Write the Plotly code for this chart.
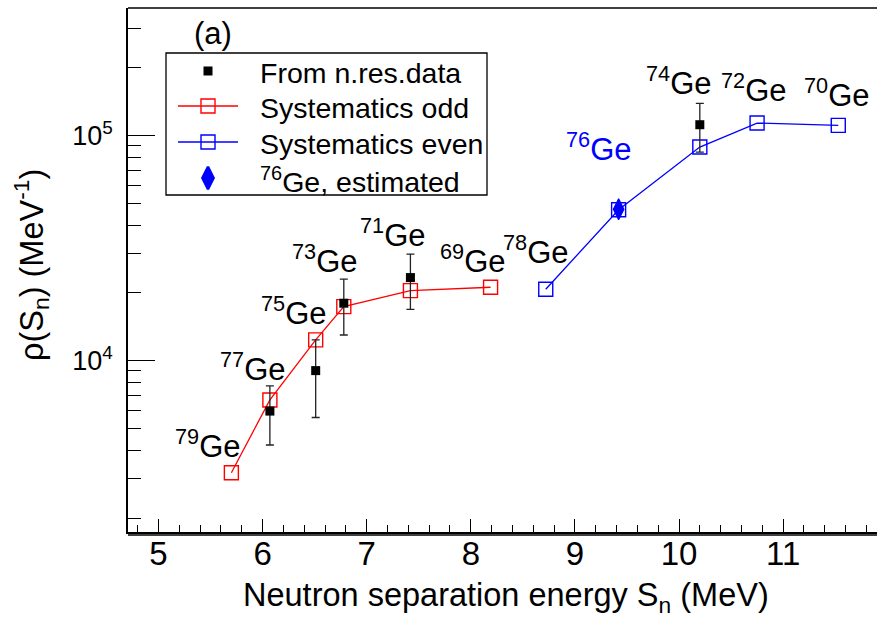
import math
import plotly.graph_objects as go

# ---- data: level density at the neutron separation energy, Ge isotopes ----
# systematics, odd-A isotopes
odd_sn = [5.70, 6.07, 6.51, 6.78, 7.42, 8.19]
odd_rho = [3180, 6690, 12360, 17380, 20470, 21180]
odd_mass = ["79", "77", "75", "73", "71", "69"]

# systematics, even-A isotopes
even_sn = [8.72, 9.42, 10.20, 10.75, 11.53]
even_rho = [20750, 46770, 88800, 113500, 110800]
even_mass = ["78", "76", "74", "72", "70"]

# values from neutron resonance data, with upper / lower error limits
res_sn = [6.07, 6.51, 6.78, 7.42, 10.20]
res_rho = [5970, 9030, 17990, 23380, 111600]
res_upper = [7730, 12370, 23010, 29720, 138700]
res_lower = [4220, 5590, 13000, 16900, 84400]

# 76Ge estimate
est_sn = [9.42]
est_rho = [47000]

x_ticks = [5, 6, 7, 8, 9, 10, 11]
y_ticks = [1e4, 1e5]
y_ticktext = ["10<sup>4</sup>", "10<sup>5</sup>"]

# ---- layout helpers (pixel -> paper) ----
W, H = 877, 620
L, R, T, B = 128, 0, 8, 88


def px(x):
    return (x - L) / (W - L - R)


def py(y):
    return (H - B - y) / (H - T - B)


FONT = "Liberation Sans, Arial, Helvetica, sans-serif"
RED = "#ff0000"
BLUE = "#0000ff"

fig = go.Figure()

fig.add_trace(go.Scatter(
    x=odd_sn, y=odd_rho, mode="lines+markers",
    line=dict(color=RED, width=1.3),
    marker=dict(symbol="square-open", size=14, color=RED, line=dict(width=1.4, color=RED)),
    showlegend=False, cliponaxis=False))

fig.add_trace(go.Scatter(
    x=even_sn, y=even_rho, mode="lines+markers",
    line=dict(color=BLUE, width=1.3),
    marker=dict(symbol="square-open", size=14, color=BLUE, line=dict(width=1.4, color=BLUE)),
    showlegend=False, cliponaxis=False))

fig.add_trace(go.Scatter(
    x=est_sn, y=est_rho, mode="markers",
    marker=dict(symbol="diamond-tall", size=15, color=BLUE, line=dict(width=1.2, color=BLUE)),
    showlegend=False))

fig.add_trace(go.Scatter(
    x=res_sn, y=res_rho, mode="markers",
    marker=dict(symbol="square", size=9, color="black", line=dict(width=0)),
    error_y=dict(type="data", symmetric=False,
                 array=[u - v for u, v in zip(res_upper, res_rho)],
                 arrayminus=[v - d for v, d in zip(res_rho, res_lower)],
                 color="#222222", thickness=1.3, width=4),
    showlegend=False))

# ---- isotope labels, offset (px) from their points ----
odd_offsets = [(-24, 7), (-17, 11), (-22, 7), (-19, 26), (-18, 36), (-18, 6)]
even_offsets = [(-10, 17), (-20, 41), (-21, 44), (-4, 13), (-2, 10)]
LABEL_SIZE = 31

annotations = []
for sn, rho, a, (dx, dy) in zip(odd_sn, odd_rho, odd_mass, odd_offsets):
    annotations.append(dict(x=sn, y=math.log10(rho), xref="x", yref="y",
                            text=f"<sup>{a}</sup>Ge", showarrow=False,
                            xanchor="center", yanchor="bottom", xshift=dx, yshift=dy,
                            font=dict(size=LABEL_SIZE, color="black", family=FONT)))
for sn, rho, a, (dx, dy) in zip(even_sn, even_rho, even_mass, even_offsets):
    annotations.append(dict(x=sn, y=math.log10(rho), xref="x", yref="y",
                            text=f"<sup>{a}</sup>Ge", showarrow=False,
                            xanchor="center", yanchor="bottom", xshift=dx, yshift=dy,
                            font=dict(size=LABEL_SIZE, color=BLUE if a == "76" else "black",
                                      family=FONT)))

# panel tag
annotations.append(dict(x=px(213), y=py(33), xref="paper", yref="paper", text="(a)",
                        showarrow=False, xanchor="center", yanchor="middle",
                        font=dict(size=31, color="black", family=FONT)))

# axis titles
annotations.append(dict(x=px(506), y=py(597), xref="paper", yref="paper",
                        text="Neutron separation energy S<sub>n</sub> (MeV)",
                        showarrow=False, xanchor="center", yanchor="middle",
                        font=dict(size=32.5, color="black", family=FONT)))
annotations.append(dict(x=px(31), y=py(265), xref="paper", yref="paper",
                        text="\u03c1(S<sub>n</sub>) (MeV<sup>-1</sup>)", textangle=-90,
                        showarrow=False, xanchor="center", yanchor="middle",
                        font=dict(size=32.5, color="black", family=FONT)))

# ---- legend drawn on an overlay axis in paper units ----
leg_rows = [71, 106, 142, 178]
leg_mx, leg_l0, leg_l1, leg_tx = 208, 178, 238, 258
leg_text = ["From n.res.data", "Systematics odd", "Systematics even",
            "<sup>76</sup>Ge, estimated"]

fig.add_trace(go.Scatter(x=[px(leg_mx)], y=[py(leg_rows[0])], xaxis="x2", yaxis="y2",
                         mode="markers", marker=dict(symbol="square", size=9, color="black"),
                         showlegend=False, hoverinfo="skip"))
for row, col in ((leg_rows[1], RED), (leg_rows[2], BLUE)):
    fig.add_trace(go.Scatter(x=[px(leg_l0), px(leg_l1)], y=[py(row), py(row)],
                             xaxis="x2", yaxis="y2", mode="lines",
                             line=dict(color=col, width=1.3), showlegend=False, hoverinfo="skip"))
    fig.add_trace(go.Scatter(x=[px(leg_mx)], y=[py(row)], xaxis="x2", yaxis="y2",
                             mode="markers",
                             marker=dict(symbol="square-open", size=14, color=col,
                                         line=dict(width=1.4, color=col)),
                             showlegend=False, hoverinfo="skip"))
fig.add_trace(go.Scatter(x=[px(leg_mx)], y=[py(leg_rows[3])], xaxis="x2", yaxis="y2",
                         mode="markers",
                         marker=dict(symbol="diamond-tall", size=16, color=BLUE,
                                     line=dict(width=2.5, color=BLUE)),
                         showlegend=False, hoverinfo="skip"))
for row, txt in zip(leg_rows, leg_text):
    annotations.append(dict(x=px(leg_tx), y=py(row + 2), xref="paper", yref="paper",
                            text=txt, showarrow=False, xanchor="left", yanchor="middle",
                            font=dict(size=28.5, color="black", family=FONT)))

shapes = [
    # legend frame
    dict(type="rect", xref="paper", yref="paper", x0=px(166), x1=px(487),
         y0=py(53), y1=py(195), line=dict(color="black", width=1.3),
         fillcolor="rgba(0,0,0,0)", layer="below"),
    # top frame line
    dict(type="line", xref="paper", yref="paper", x0=0, x1=1, y0=1, y1=1,
         line=dict(color="black", width=1.5)),
    # second bottom line under the x axis
    dict(type="line", xref="paper", yref="paper", ysizemode="pixel", yanchor=0,
         x0=0, x1=1, y0=-3, y1=-3, line=dict(color="black", width=1.5)),
]

fig.update_layout(
    width=W, height=H,
    margin=dict(l=L, r=R, t=T, b=B, pad=0),
    paper_bgcolor="white", plot_bgcolor="white",
    font=dict(family=FONT, color="black"),
    showlegend=False,
    annotations=annotations,
    shapes=shapes,
    xaxis=dict(
        range=[4.707, 4.707 + (W - L - R) / 104.1],
        tickmode="array", tickvals=x_ticks, ticktext=[str(v) for v in x_ticks],
        ticks="inside", ticklen=13, tickwidth=1.2, tickcolor="black",
        minor=dict(dtick=0.2, tick0=5, ticks="inside", ticklen=7, tickwidth=1.2,
                   tickcolor="black"),
        showline=True, linecolor="black", linewidth=1.5,
        showgrid=False, zeroline=False,
        tickfont=dict(size=33, family=FONT, color="black"),
        ticklabelstandoff=-8,
    ),
    yaxis=dict(
        type="log", range=[3.239, 5.566],
        tickmode="array", tickvals=y_ticks, ticktext=y_ticktext,
        ticks="inside", ticklen=27, tickwidth=1.2, tickcolor="black",
        minor=dict(tickmode="array",
                   tickvals=[m * 10 ** e for e in (3, 4, 5) for m in range(2, 10)
                             if m * 10 ** e <= 3.6e5],
                   ticks="inside", ticklen=13, tickwidth=1.2, tickcolor="black"),
        showline=True, linecolor="black", linewidth=1.5,
        showgrid=False, zeroline=False,
        tickfont=dict(size=27, family=FONT, color="black"),
        ticklabelstandoff=8,
    ),
    xaxis2=dict(domain=[0, 1], range=[0, 1], overlaying="x", visible=False,
                fixedrange=True),
    yaxis2=dict(domain=[0, 1], range=[0, 1], overlaying="y", visible=False,
                fixedrange=True, anchor="x2"),
)

fig.write_html("out.html")
